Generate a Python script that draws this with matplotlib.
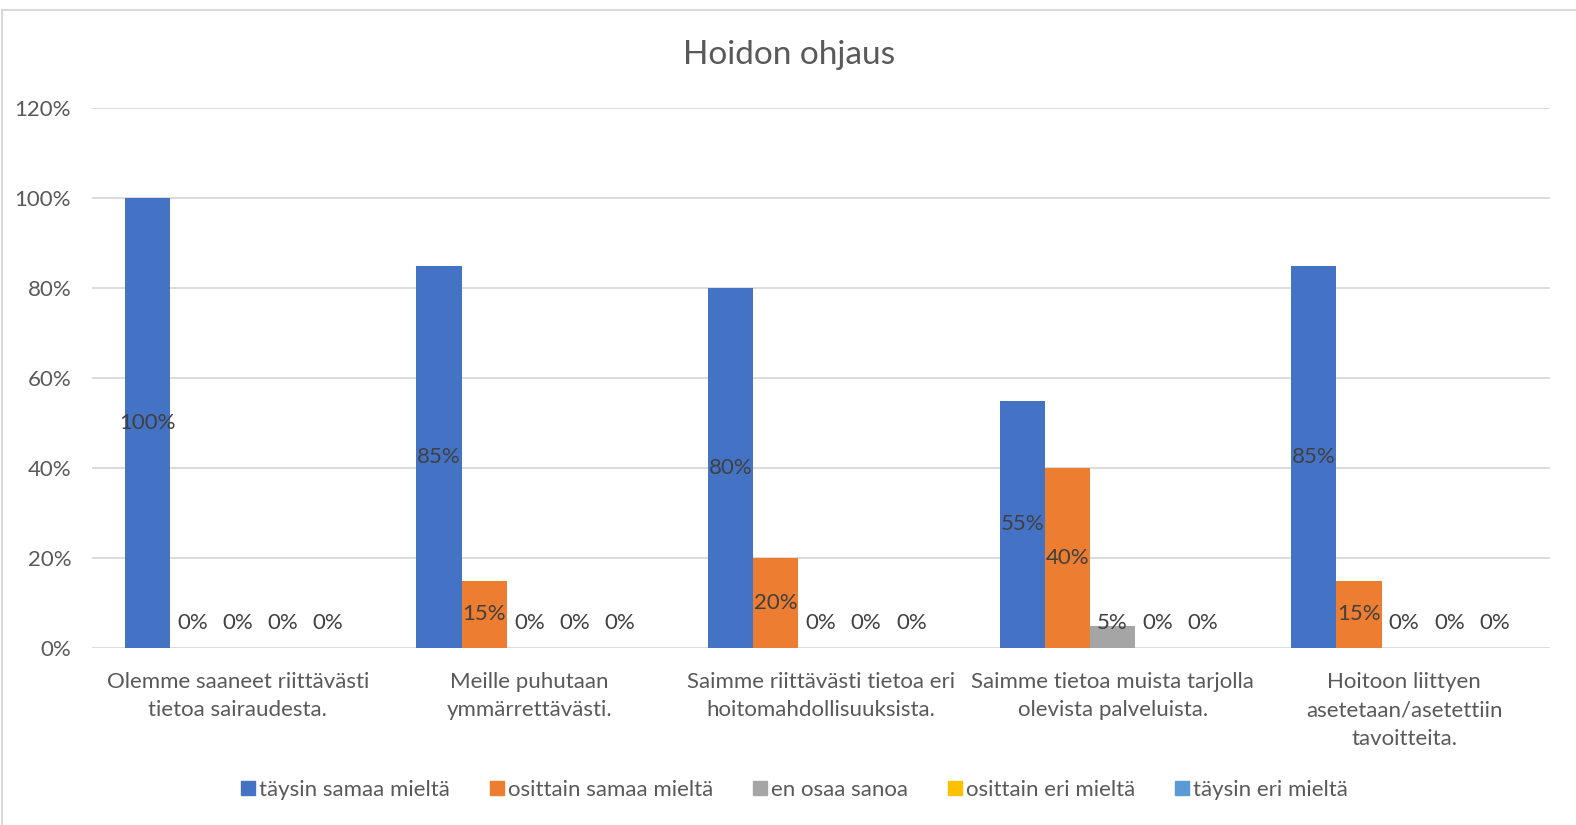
import numpy as np
import matplotlib.pyplot as plt
from matplotlib.lines import Line2D

plt.rcParams['font.family'] = ['Lato', 'DejaVu Sans']

categories = ["Olemme saaneet riittävästi\ntietoa sairaudesta.",
              "Meille puhutaan\nymmärrettävästi.",
              "Saimme riittävästi tietoa eri\nhoitomahdollisuuksista.",
              "Saimme tietoa muista tarjolla\nolevista palveluista.",
              "Hoitoon liittyen\nasetetaan/asetettiin\ntavoitteita."]
series = ["täysin samaa mieltä", "osittain samaa mieltä", "en osaa sanoa",
          "osittain eri mieltä", "täysin eri mieltä"]
taysin_samaa = [100, 85, 80, 55, 85]
osittain_samaa = [0, 15, 20, 40, 15]
en_osaa = [0, 0, 0, 5, 0]
osittain_eri = [0, 0, 0, 0, 0]
taysin_eri = [0, 0, 0, 0, 0]
values = [taysin_samaa, osittain_samaa, en_osaa, osittain_eri, taysin_eri]
colors = ["#4472C4", "#ED7D31", "#A5A5A5", "#FFC000", "#5B9BD5"]
yticks = [0, 20, 40, 60, 80, 100, 120]

fig = plt.figure(figsize=(15.76, 8.25), dpi=100)
ax = fig.add_axes([92 / 1576, 1 - 648 / 825, 1458 / 1576, 540 / 825])

x = np.arange(len(categories))
w = 0.155
txt = "#404040"
for i, (vals, c) in enumerate(zip(values, colors)):
    pos = x + (i - 2) * w
    ax.bar(pos, vals, w, color=c, label=series[i], zorder=3)
    for p, v in zip(pos, vals):
        ax.text(p, max(v / 2, 5.5), f"{v}%", ha="center", va="center",
                fontsize=16, color=txt, zorder=4)

ax.set_xlim(-0.5, len(categories) - 0.5)
ax.set_ylim(0, 120)
ax.set_yticks(yticks)
ax.set_yticklabels([f"{t}%" for t in yticks], fontsize=16, color="#595959")
ax.set_xticks(x)
ax.set_xticklabels(categories, fontsize=16, color="#595959", linespacing=1.55, va="top")
ax.tick_params(length=0)
ax.tick_params(axis="x", pad=17)
ax.tick_params(axis="y", pad=15)
ax.grid(axis="y", color="#D9D9D9", linewidth=1.3, zorder=0)
for s in ax.spines.values():
    s.set_visible(False)

fig.text(789 / 1576, 1 - 55 / 825, "Hoidon ohjaus", ha="center", va="center",
         fontsize=24, color="#595959")

handles = [Line2D([], [], marker="s", linestyle="", markersize=10,
                  color=c) for c in colors]
fig.legend(handles, series, loc="center", bbox_to_anchor=(794 / 1576, 1 - 790 / 825),
           ncol=5, frameon=False, fontsize=16, handletextpad=0.15, handlelength=0.7,
           columnspacing=1.75, labelcolor="#595959")

# chart border
fig.add_artist(Line2D([2 / 1576, 2 / 1576], [0, 1 - 10 / 825], color="#D9D9D9",
                      linewidth=1.5, transform=fig.transFigure))
fig.add_artist(Line2D([2 / 1576, 1], [1 - 10 / 825, 1 - 10 / 825], color="#D9D9D9",
                      linewidth=1.5, transform=fig.transFigure))

fig.savefig("out.png", dpi=100)
